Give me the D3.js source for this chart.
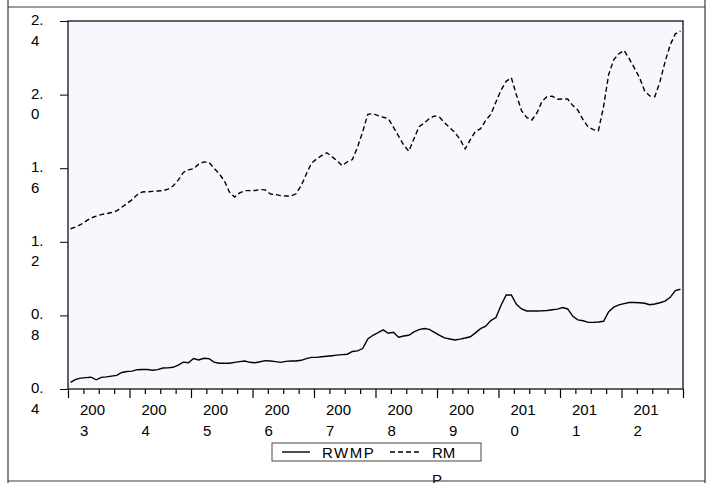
<!DOCTYPE html>
<html>
<head>
<meta charset="utf-8">
<script src="https://cdn.jsdelivr.net/npm/d3@7"></script>
<style>
  html, body { margin: 0; padding: 0; background: #fff; }
  svg { display: block; }
  text { font-family: "Liberation Sans", Arial, sans-serif; font-size: 15px; fill: #000; }
</style>
</head>
<body>
<svg id="chart" width="712" height="483"></svg>
<script>
// Monthly series, 2003M01 – 2012M12
const years = ["2003","2004","2005","2006","2007","2008","2009","2010","2011","2012"];
const yTickValues = [0.4, 0.8, 1.2, 1.6, 2.0, 2.4];
const yTickLabels = ["0.4", "0.8", "1.2", "1.6", "2.0", "2.4"];
const seriesNames = ["RWMP", "RMP"];

const rwmp = [
  0.436,0.452,0.459,0.462,0.464,0.450,0.463,0.466,0.470,0.474,0.490,0.495,
  0.497,0.505,0.506,0.506,0.502,0.505,0.514,0.515,0.518,0.530,0.546,0.543,
  0.566,0.558,0.567,0.565,0.546,0.540,0.540,0.540,0.545,0.549,0.552,0.545,
  0.543,0.548,0.554,0.552,0.549,0.545,0.550,0.552,0.552,0.556,0.565,0.572,
  0.572,0.575,0.578,0.581,0.584,0.587,0.589,0.604,0.607,0.620,0.672,0.692,
  0.706,0.721,0.703,0.708,0.681,0.688,0.692,0.710,0.723,0.729,0.724,0.708,
  0.692,0.678,0.672,0.666,0.671,0.677,0.684,0.705,0.728,0.741,0.772,0.788,
  0.855,0.911,0.911,0.860,0.835,0.824,0.824,0.824,0.825,0.827,0.831,0.834,
  0.843,0.835,0.795,0.776,0.771,0.762,0.762,0.764,0.768,0.820,0.845,0.857,
  0.864,0.870,0.870,0.869,0.866,0.858,0.862,0.869,0.878,0.898,0.935,0.942
];

const rmp = [
  1.271,1.281,1.294,1.312,1.329,1.340,1.348,1.353,1.359,1.368,1.388,1.408,
  1.429,1.456,1.471,1.472,1.474,1.476,1.478,1.486,1.503,1.535,1.577,1.591,
  1.597,1.622,1.634,1.632,1.600,1.570,1.532,1.470,1.443,1.466,1.478,1.478,
  1.479,1.484,1.482,1.460,1.457,1.451,1.449,1.449,1.461,1.505,1.568,1.627,
  1.650,1.668,1.684,1.663,1.640,1.614,1.635,1.647,1.715,1.798,1.893,1.896,
  1.886,1.877,1.870,1.823,1.774,1.726,1.692,1.760,1.826,1.845,1.870,1.884,
  1.877,1.846,1.820,1.794,1.757,1.705,1.755,1.800,1.815,1.860,1.893,1.960,
  2.025,2.072,2.092,1.998,1.912,1.876,1.862,1.900,1.964,1.990,1.991,1.975,
  1.976,1.976,1.940,1.915,1.864,1.824,1.810,1.804,1.935,2.110,2.190,2.222,
  2.240,2.195,2.145,2.093,2.021,1.993,1.989,2.070,2.178,2.270,2.330,2.345
];

const svg = d3.select("#chart");
const plot = { left: 68, right: 683, top: 21, bottom: 389 };

// Outer frame of the graph window
const frame = svg.append("g").attr("stroke", "#3a3a3a").attr("stroke-width", 1.2);
frame.append("line").attr("x1", 8).attr("x2", 8).attr("y1", 0).attr("y2", 483);
frame.append("line").attr("x1", 705).attr("x2", 705).attr("y1", 0).attr("y2", 483);
frame.append("line").attr("x1", 8).attr("x2", 705).attr("y1", 7).attr("y2", 7);

// Scales: months on x (observations drawn at mid-period), value on y
const nMonths = years.length * 12;
const x = d3.scaleLinear().domain([0, nMonths]).range([plot.left, plot.right]);
const y = d3.scaleLinear().domain([0.4, 2.4]).range([plot.bottom, plot.top]);

// Plot background
svg.append("rect")
  .attr("x", plot.left).attr("y", plot.top)
  .attr("width", plot.right - plot.left).attr("height", plot.bottom - plot.top)
  .attr("fill", "#f6f8fd");

// Y axis ticks
const yAxis = d3.axisLeft(y).tickValues(yTickValues).tickSize(8).tickSizeOuter(0).tickFormat("");
const gy = svg.append("g").attr("transform", `translate(${plot.left},0)`).call(yAxis);
gy.select(".domain").remove();
gy.selectAll(".tick line").attr("stroke", "#000").attr("stroke-width", 1);

// Y tick labels, wrapped after the decimal point
yTickValues.forEach((v, k) => {
  const s = yTickLabels[k];
  const cut = s.indexOf(".") + 1;
  const t = svg.append("text").attr("x", 31).attr("y", y(v) + 4);
  t.append("tspan").attr("x", 31).text(s.slice(0, cut));
  t.append("tspan").attr("x", 31).attr("dy", 20.5).text(s.slice(cut));
});

// X axis: quarter ticks and longer year ticks
const quarterTicks = d3.range(0, nMonths + 1, 3).filter(m => m % 12 !== 0);
const yearTicks = d3.range(0, nMonths + 1, 12);
const gxMinor = svg.append("g").attr("transform", `translate(0,${plot.bottom})`)
  .call(d3.axisBottom(x).tickValues(quarterTicks).tickSize(5).tickSizeOuter(0).tickFormat(""));
const gxMajor = svg.append("g").attr("transform", `translate(0,${plot.bottom})`)
  .call(d3.axisBottom(x).tickValues(yearTicks).tickSize(9).tickSizeOuter(0).tickFormat(""));
[gxMinor, gxMajor].forEach(g => {
  g.select(".domain").remove();
  g.selectAll(".tick line").attr("stroke", "#000").attr("stroke-width", 1.2);
});

// Year labels, wrapped after three characters
years.forEach((yr, k) => {
  const lx = x(k * 12) + 12;
  const t = svg.append("text").attr("x", lx).attr("y", 414.5);
  t.append("tspan").attr("x", lx).text(yr.slice(0, 3));
  t.append("tspan").attr("x", lx).attr("dy", 21).text(yr.slice(3));
});

// Plot frame
svg.append("rect")
  .attr("x", plot.left).attr("y", plot.top)
  .attr("width", plot.right - plot.left).attr("height", plot.bottom - plot.top)
  .attr("fill", "none").attr("stroke", "#222").attr("stroke-width", 1.4);

// Series lines
const line = d3.line().x((d, i) => x(i + 0.5)).y(d => y(d));
svg.append("path").datum(rmp).attr("d", line)
  .attr("fill", "none").attr("stroke", "#000").attr("stroke-width", 1.4)
  .attr("stroke-dasharray", "5,3");
svg.append("path").datum(rwmp).attr("d", line)
  .attr("fill", "none").attr("stroke", "#000").attr("stroke-width", 1.4);

// Legend
const lg = svg.append("g");
lg.append("rect").attr("x", 272).attr("y", 443).attr("width", 209).attr("height", 18)
  .attr("fill", "#fff").attr("stroke", "#444").attr("stroke-width", 1);
lg.append("line").attr("x1", 282).attr("x2", 310).attr("y1", 452).attr("y2", 452)
  .attr("stroke", "#000").attr("stroke-width", 1.4);
lg.append("text").attr("x", 322).attr("y", 457.5).attr("letter-spacing", "1.5px").text(seriesNames[0]);
lg.append("line").attr("x1", 390).attr("x2", 421).attr("y1", 452).attr("y2", 452)
  .attr("stroke", "#000").attr("stroke-width", 1.4).attr("stroke-dasharray", "5,3");
const t2 = lg.append("text").attr("x", 432).attr("y", 457.5);
t2.append("tspan").attr("x", 432).text(seriesNames[1].slice(0, 2));
t2.append("tspan").attr("x", 432).attr("dy", 27).text(seriesNames[1].slice(2));

// Bottom edge of the window frame
svg.append("line").attr("x1", 8).attr("x2", 705).attr("y1", 481).attr("y2", 481)
  .attr("stroke", "#3a3a3a").attr("stroke-width", 1.2);
</script>
</body>
</html>
